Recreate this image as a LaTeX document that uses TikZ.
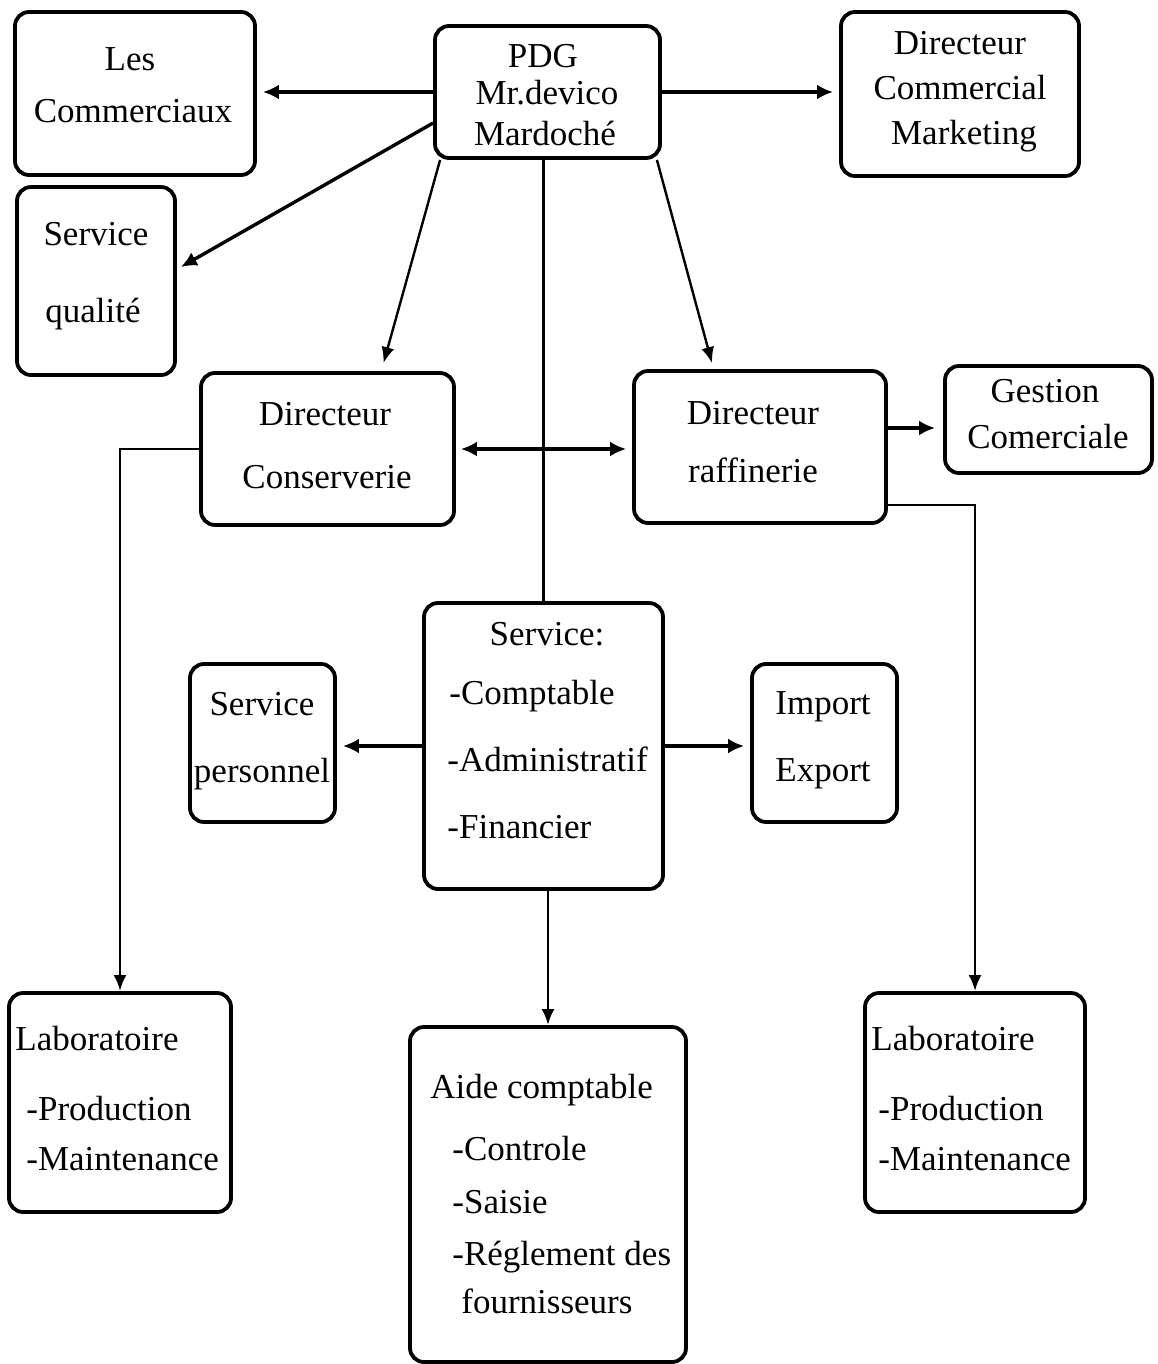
\documentclass[tikz,border=0pt]{standalone}
\usepackage{fontspec}
\setmainfont{Liberation Serif}
\usetikzlibrary{arrows.meta}
\tikzset{
  box/.style={draw, line width=1.9pt, rounded corners=7pt, inner sep=0pt},
  txt/.style={anchor=base, inner sep=0pt, font=\fontsize{17.5pt}{20pt}\selectfont},
  ltxt/.style={txt, anchor=base west},
  arr/.style={line width=1.7pt, -{Latex[length=8pt,width=7.5pt]}},
  darr/.style={line width=1.7pt, {Latex[length=8pt,width=7.5pt]}-{Latex[length=8pt,width=7.5pt]}},
  tarr/.style={line width=1.2pt, -{Latex[length=8pt,width=6.5pt]}},
  vline/.style={line width=1.4pt},
  varr/.style={line width=1.4pt, -{Latex[length=8pt,width=6.5pt]}}
}
\begin{document}
\begin{tikzpicture}[x=0.5pt,y=-0.5pt]
\useasboundingbox (0,0) rectangle (1157,1364);
% boxes
\node[box, minimum width=120pt, minimum height=81.5pt] (com) at (135,93.5) {};
\node[box, minimum width=112.5pt, minimum height=66pt] (pdg) at (547.5,92) {};
\node[box, minimum width=119pt, minimum height=82pt] (dcm) at (960,94) {};
\node[box, minimum width=79pt, minimum height=94pt] (sq) at (96,281) {};
\node[box, minimum width=126.5pt, minimum height=76pt] (dcons) at (327.5,449) {};
\node[box, minimum width=126pt, minimum height=76pt] (draf) at (760,447) {};
\node[box, minimum width=103.5pt, minimum height=53.5pt] (gest) at (1048.5,419.5) {};
\node[box, minimum width=119.5pt, minimum height=143pt] (serv) at (543.5,746) {};
\node[box, minimum width=72.5pt, minimum height=79pt] (sp) at (262.5,743) {};
\node[box, minimum width=72.5pt, minimum height=79pt] (ie) at (824.5,743) {};
\node[box, minimum width=111pt, minimum height=109.5pt] (lab1) at (120,1102.5) {};
\node[box, minimum width=138pt, minimum height=167.5pt] (aide) at (548,1194.5) {};
\node[box, minimum width=110pt, minimum height=109.5pt] (lab2) at (975,1102.5) {};
% texts
\node[txt] (com1) at (130,71) {Les};
\node[txt] (com2) at (133,123) {Commerciaux};
\node[txt] (pdg1) at (543,68) {PDG};
\node[txt] (pdg2) at (547,105) {Mr.devico};
\node[txt] (pdg3) at (545,146) {Mardoché};
\node[txt] (dcm1) at (960,55) {Directeur};
\node[txt] (dcm2) at (960,100) {Commercial};
\node[txt] (dcm3) at (964,145) {Marketing};
\node[txt] (sq1) at (96,246) {Service};
\node[txt] (sq2) at (93,322) {qualité};
\node[txt] (dcons1) at (325,425) {Directeur};
\node[txt] (dcons2) at (327,488) {Conserverie};
\node[txt] (draf1) at (753,424) {Directeur};
\node[txt] (draf2) at (753,482) {raffinerie};
\node[txt] (gest1) at (1045,402) {Gestion};
\node[txt] (gest2) at (1048,448) {Comerciale};
\node[txt] (serv1) at (547,645) {Service:};
\node[ltxt] (serv2) at (449,704) {-Comptable};
\node[ltxt] (serv3) at (447,771) {-Administratif};
\node[ltxt] (serv4) at (447,838) {-Financier};
\node[txt] (sp1) at (262,715) {Service};
\node[txt] (sp2) at (262,782) {personnel};
\node[txt] (ie1) at (823,714) {Import};
\node[txt] (ie2) at (823,781) {Export};
\node[ltxt] (lab1a) at (15,1050) {Laboratoire};
\node[ltxt] (lab1b) at (26,1120) {-Production};
\node[ltxt] (lab1c) at (26,1170) {-Maintenance};
\node[ltxt] (aide1) at (430,1098) {Aide comptable};
\node[ltxt] (aide2) at (452,1160) {-Controle};
\node[ltxt] (aide3) at (452,1213) {-Saisie};
\node[ltxt] (aide4) at (452,1265) {-Réglement des};
\node[ltxt] (aide5) at (461,1313) {fournisseurs};
\node[ltxt] (lab2a) at (871,1050) {Laboratoire};
\node[ltxt] (lab2b) at (878,1120) {-Production};
\node[ltxt] (lab2c) at (878,1170) {-Maintenance};
% connectors
\draw[arr, shorten >=3pt] (pdg.west) -- (pdg.west -| com.east);
\draw[arr, shorten >=3pt] (pdg.east) -- (pdg.east -| dcm.west);
\draw[arr] ([yshift=-15.5pt]pdg.west) -- ([xshift=2pt,yshift=7pt]sq.east);
\draw[tarr] ([xshift=3.5pt]pdg.south west) -- ([xshift=28pt,yshift=4pt]dcons.north);
\draw[tarr] ([xshift=-2.5pt]pdg.south east) -- ([xshift=-24pt,yshift=3pt]draf.north);
\draw[vline] (serv.north |- pdg.south) -- (serv.north);
\draw[darr, shorten <=2.5pt, shorten >=3pt] (dcons.east) -- (dcons.east -| draf.west);
\draw[arr, shorten >=4pt] ([yshift=9.5pt]draf.east) -- ([yshift=9.5pt]draf.east -| gest.west);
\draw[varr] (dcons.west) -| (lab1.north);
\draw[varr] ([yshift=-29pt]draf.east) -| (lab2.north);
\draw[arr, shorten >=3pt] (serv.west) -- (serv.west -| sp.east);
\draw[arr, shorten >=3pt] (serv.east) -- (serv.east -| ie.west);
\draw[varr] (aide.north |- serv.south) -- (aide.north);
\end{tikzpicture}
\end{document}
